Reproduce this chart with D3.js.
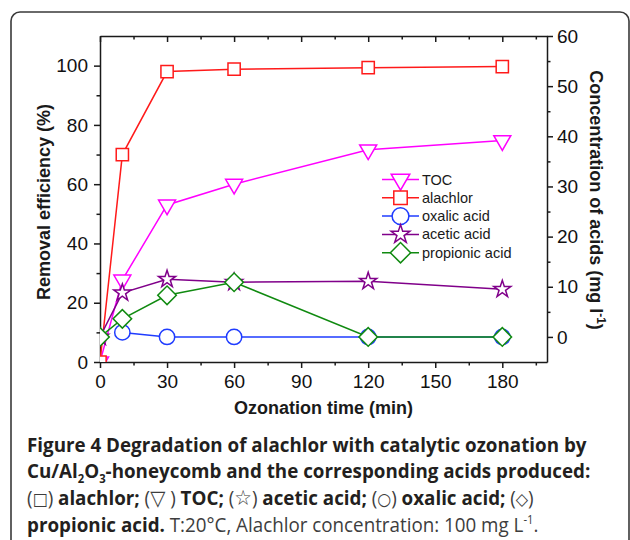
<!DOCTYPE html>
<html>
<head>
<meta charset="utf-8">
<script src="https://cdn.jsdelivr.net/npm/d3@7"></script>
<style>
  body { margin: 0; background: #fff; overflow: hidden; }
  svg { display: block; }
</style>
</head>
<body>
<div id="chart"></div>
<script>
// ---- data ----
const times = [0, 10, 30, 60, 120, 180];
const tocValues = [0, 27.7, 53, 60, 71.6, 74.7];          // % removal (left axis)
const alachlorValues = [0, 70, 98, 98.8, 99.3, 99.7];     // % removal (left axis)
const oxalicTimes = [10, 30, 60, 120, 180];
const oxalicValues = [0.9, 0, 0, 0, 0];                   // mg/l (right axis)
const aceticValues = [0, 8.8, 11.5, 10.9, 11.1, 9.5];     // mg/l (right axis)
const propionicValues = [0, 3.6, 8.3, 10.9, 0, 0];        // mg/l (right axis)

const xTicks = [0, 30, 60, 90, 120, 150, 180];
const xMinorTicks = [15, 45, 75, 105, 135, 165, 195];
const leftTicks = [0, 20, 40, 60, 80, 100];
const leftMinorTicks = [10, 30, 50, 70, 90];
const rightTicks = [0, 10, 20, 30, 40, 50, 60];
const rightMinorTicks = [5, 15, 25, 35, 45, 55];

const seriesNames = ["TOC", "alachlor", "oxalic acid", "acetic acid", "propionic acid"];

const captionLines = [
  [["b", "Figure 4 Degradation of alachlor with catalytic ozonation by"]],
  [["b", "Cu/Al"], ["bsub", "2"], ["b", "O"], ["bsub", "3"], ["b", "-honeycomb and the corresponding acids produced:"]],
  [["r", "("], ["sym", "□"], ["r", ")"], ["b", " alachlor; "], ["r", "("], ["symL", "▽"], ["r", " )"], ["b", " TOC; "],
   ["r", "("], ["symL", "☆"], ["r", ")"], ["b", " acetic acid; "], ["r", "("], ["sym", "○"], ["r", ")"],
   ["b", " oxalic acid; "], ["r", "("], ["sym", "◇"], ["r", ")"]],
  [["b", "propionic acid."], ["r", " T:20°C, Alachlor concentration: 100 mg L"], ["rsup", "-1"], ["r", "."]],
];

// ---- layout ----
const width = 630;
const height = 540;
const plot = { left: 100, right: 547, top: 36, bottom: 362 };
const axisFont = "'Liberation Sans', Arial, sans-serif";
const ink = "#1a1a1a";

const svg = d3
  .select("#chart")
  .append("svg")
  .attr("width", width)
  .attr("height", height)
  .style("font-family", axisFont);

svg.append("rect").attr("width", width).attr("height", height).attr("fill", "#fff");

// rounded panel frame (runs off the bottom and right of the crop)
svg
  .append("rect")
  .attr("x", 11)
  .attr("y", 12)
  .attr("width", 618)
  .attr("height", 620)
  .attr("rx", 9)
  .attr("fill", "none")
  .attr("stroke", "#3a3a3a")
  .attr("stroke-width", 1.6);

const x = d3.scaleLinear().domain([0, 200]).range([plot.left, plot.right]);
const yLeft = d3.scaleLinear().domain([0, 110]).range([plot.bottom, plot.top]);
const yRight = d3.scaleLinear().domain([-5, 60]).range([plot.bottom, plot.top]);

function styleAxis(g, showDomain) {
  g.attr("font-family", axisFont).attr("font-size", 19);
  if (showDomain) {
    g.select(".domain").attr("stroke", ink).attr("stroke-width", 1.5);
  } else {
    g.select(".domain").remove();
  }
  g.selectAll(".tick line").attr("stroke", ink).attr("stroke-width", 1.5);
  g.selectAll(".tick text").attr("fill", "#111");
}

// bottom axis
svg
  .append("g")
  .attr("transform", `translate(0,${plot.bottom})`)
  .call(d3.axisBottom(x).tickValues(xTicks).tickSize(6).tickSizeOuter(0).tickPadding(7))
  .call((g) => styleAxis(g, true));
svg
  .append("g")
  .attr("transform", `translate(0,${plot.bottom})`)
  .call(d3.axisBottom(x).tickValues(xMinorTicks).tickSize(3.5).tickFormat(""))
  .call((g) => styleAxis(g, false));

// top axis (mirror, ticks pointing in)
svg
  .append("g")
  .attr("transform", `translate(0,${plot.top})`)
  .call(d3.axisTop(x).tickValues(xTicks).tickSize(-6).tickSizeOuter(0).tickFormat(""))
  .call((g) => styleAxis(g, true));
svg
  .append("g")
  .attr("transform", `translate(0,${plot.top})`)
  .call(d3.axisTop(x).tickValues(xMinorTicks).tickSize(-3.5).tickFormat(""))
  .call((g) => styleAxis(g, false));

// left axis
svg
  .append("g")
  .attr("transform", `translate(${plot.left},0)`)
  .call(d3.axisLeft(yLeft).tickValues(leftTicks).tickSize(6).tickSizeOuter(0).tickPadding(6))
  .call((g) => styleAxis(g, true));
svg
  .append("g")
  .attr("transform", `translate(${plot.left},0)`)
  .call(d3.axisLeft(yLeft).tickValues(leftMinorTicks).tickSize(3.5).tickFormat(""))
  .call((g) => styleAxis(g, false));

// right axis
svg
  .append("g")
  .attr("transform", `translate(${plot.right},0)`)
  .call(d3.axisRight(yRight).tickValues(rightTicks).tickSize(6).tickSizeOuter(0).tickPadding(4))
  .call((g) => styleAxis(g, true));
svg
  .append("g")
  .attr("transform", `translate(${plot.right},0)`)
  .call(d3.axisRight(yRight).tickValues(rightMinorTicks).tickSize(3.5).tickFormat(""))
  .call((g) => styleAxis(g, false));

// axis titles
svg
  .append("text")
  .attr("transform", `translate(${(plot.left + plot.right) / 2},414)`)
  .attr("text-anchor", "middle")
  .attr("font-weight", "bold")
  .attr("font-size", 18)
  .attr("fill", ink)
  .text("Ozonation time (min)");

svg
  .append("text")
  .attr("transform", "translate(50,202) rotate(-90)")
  .attr("text-anchor", "middle")
  .attr("font-weight", "bold")
  .attr("font-size", 18)
  .attr("fill", ink)
  .text("Removal efficiency (%)");

const rightTitle = svg
  .append("text")
  .attr("transform", "translate(590,200) rotate(90)")
  .attr("text-anchor", "middle")
  .attr("font-weight", "bold")
  .attr("font-size", 18)
  .attr("fill", ink);
rightTitle.append("tspan").text("Concentration of acids (mg l");
rightTitle.append("tspan").attr("dy", -7).attr("font-size", 12).text("-1");
rightTitle.append("tspan").attr("dy", 7).text(")");

// ---- series ----
const series = [
  { name: seriesNames[0], t: times, v: tocValues, y: yLeft, color: "#ff00ff", shape: "triangleDown" },
  { name: seriesNames[1], t: times, v: alachlorValues, y: yLeft, color: "#ff1a1a", shape: "square" },
  { name: seriesNames[2], t: oxalicTimes, v: oxalicValues, y: yRight, color: "#1f3cff", shape: "circle" },
  { name: seriesNames[3], t: times, v: aceticValues, y: yRight, color: "#80008a", shape: "star" },
  { name: seriesNames[4], t: times, v: propionicValues, y: yRight, color: "#108a10", shape: "diamond" },
];

const shapes = {
  triangleDown: { type: d3.symbolTriangle, size: 125, rotate: 180 },
  square: { type: d3.symbolSquare, size: 150, rotate: 0 },
  circle: { type: d3.symbolCircle, size: 185, rotate: 0 },
  star: { type: d3.symbolStar, size: 90, rotate: 0 },
  diamond: { type: d3.symbolSquare, size: 172, rotate: 45 },
};

function markerPath(shape, scale) {
  const s = shapes[shape];
  return d3.symbol(s.type, s.size * (scale || 1))();
}

svg
  .append("clipPath")
  .attr("id", "plot-clip")
  .append("rect")
  .attr("x", plot.left)
  .attr("y", plot.top)
  .attr("width", plot.right - plot.left)
  .attr("height", plot.bottom - plot.top);

const plotGroup = svg.append("g").attr("clip-path", "url(#plot-clip)");

series.forEach((s) => {
  const pts = s.t.map((t, i) => ({ t, v: s.v[i] }));
  const line = d3
    .line()
    .x((d) => x(d.t))
    .y((d) => s.y(d.v));

  plotGroup
    .append("path")
    .datum(pts)
    .attr("d", line)
    .attr("fill", "none")
    .attr("stroke", s.color)
    .attr("stroke-width", 1.5);

  plotGroup
    .selectAll(null)
    .data(pts)
    .enter()
    .append("path")
    .attr("d", markerPath(s.shape))
    .attr("transform", (d) => `translate(${x(d.t)},${s.y(d.v)}) rotate(${shapes[s.shape].rotate})`)
    .attr("fill", "#fff")
    .attr("stroke", s.color)
    .attr("stroke-width", 1.5);
});

// ---- legend ----
const legend = svg.append("g").attr("transform", "translate(382,179.5)");
series.forEach((s, i) => {
  const row = legend.append("g").attr("transform", `translate(0,${i * 18.3})`);
  row
    .append("line")
    .attr("x1", 0)
    .attr("x2", 37)
    .attr("stroke", s.color)
    .attr("stroke-width", 1.5);
  row
    .append("path")
    .attr("d", markerPath(s.shape, 1.2))
    .attr("transform", `translate(18.5,0) rotate(${shapes[s.shape].rotate})`)
    .attr("fill", "#fff")
    .attr("stroke", s.color)
    .attr("stroke-width", 1.5);
  row
    .append("text")
    .attr("x", 40)
    .attr("y", 5)
    .attr("font-size", 14.5)
    .attr("fill", ink)
    .text(s.name);
});

// ---- caption ----
const captionFont = "'Open Sans', 'Noto Sans', sans-serif";
const captionBaselines = [451.7, 478.4, 505.1, 532];
const captionTexts = captionLines.map((segs) => {
  const txt = svg
    .append("text")
    .attr("font-family", captionFont)
    .attr("font-size", 20)
    .attr("fill", "#231f20");
  let shift = 0;
  segs.forEach(([kind, str]) => {
    const ts = txt.append("tspan").text(str);
    let target = 0;
    if (kind === "b" || kind === "bsub") ts.attr("font-weight", 700);
    if (kind === "r" || kind === "rsup") ts.attr("font-weight", 400).attr("fill", "#3d3d3d");
    if (kind === "sym" || kind === "symL") {
      ts.attr("font-weight", 400)
        .attr("font-family", "'DejaVu Sans', sans-serif")
        .attr("font-size", kind === "symL" ? 21 : 17)
        .attr("fill", "#3d3d3d");
    }
    if (kind === "bsub") { ts.attr("font-size", 12); target = 5; }
    if (kind === "rsup") { ts.attr("font-size", 12); target = -8; }
    if (target !== shift) {
      ts.attr("dy", target - shift);
      shift = target;
    }
  });
  return txt;
});

// squeeze caption to the narrow journal face width
const firstWidth = captionTexts[0].node().getComputedTextLength();
const sx = 560 / firstWidth;
captionTexts.forEach((txt, i) => {
  txt.attr("transform", `translate(27,${captionBaselines[i]}) scale(${sx},1)`);
});
</script>
</body>
</html>
